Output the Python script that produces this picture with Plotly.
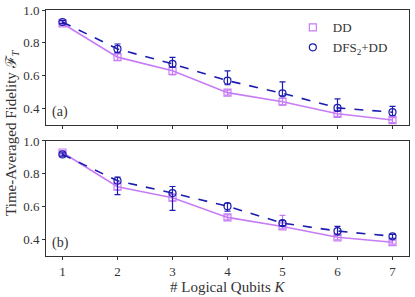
import plotly.graph_objects as go
from plotly.subplots import make_subplots

K = [1, 2, 3, 4, 5, 6, 7]

# panel (a)
dd_a = [0.918, 0.713, 0.630, 0.497, 0.442, 0.368, 0.330]
dd_a_plus = [0.01, 0.02, 0.025, 0.015, 0.02, 0.015, 0.015]
dd_a_minus = [0.01, 0.02, 0.025, 0.015, 0.02, 0.015, 0.015]
dfs_a = [0.927, 0.763, 0.672, 0.570, 0.493, 0.404, 0.378]
dfs_a_plus = [0.01, 0.03, 0.04, 0.06, 0.07, 0.055, 0.036]
dfs_a_minus = [0.01, 0.022, 0.02, 0.025, 0.015, 0.02, 0.02]

# panel (b)
dd_b = [0.930, 0.722, 0.655, 0.535, 0.480, 0.414, 0.384]
dd_b_plus = [0.01, 0.02, 0.02, 0.015, 0.067, 0.015, 0.012]
dd_b_minus = [0.01, 0.02, 0.02, 0.015, 0.014, 0.015, 0.012]
dfs_b = [0.918, 0.758, 0.683, 0.603, 0.500, 0.452, 0.420]
dfs_b_plus = [0.01, 0.022, 0.04, 0.018, 0.015, 0.028, 0.012]
dfs_b_minus = [0.01, 0.085, 0.105, 0.03, 0.015, 0.024, 0.012]

DD_COL = "#c77cf5"
DFS_COL = "#1c1cb0"
FONT = "'Liberation Serif', 'DejaVu Serif', serif"
TXT = "#333"

fig = make_subplots(rows=2, cols=1, shared_xaxes=False, vertical_spacing=0.065)

def add(row, y, yp, ym, name, col, sym, dash, show):
    fig.add_trace(go.Scatter(
        x=K, y=y, mode="lines", showlegend=False, hoverinfo="skip",
        line=dict(color=col, width=1.6, dash=dash),
    ), row=row, col=1)
    fig.add_trace(go.Scatter(
        x=K, y=y, name=name, mode="markers", showlegend=show,
        marker=dict(symbol=sym, size=7, color=col, line=dict(color=col, width=1.2)),
        error_y=dict(type="data", symmetric=False, array=yp, arrayminus=ym,
                     color=col, thickness=1.2, width=3),
    ), row=row, col=1)

add(1, dd_a, dd_a_plus, dd_a_minus, "DD", DD_COL, "square-open", "solid", True)
add(1, dfs_a, dfs_a_plus, dfs_a_minus, "DFS<sub>2</sub>+DD", DFS_COL, "circle-open", "dash", True)
add(2, dd_b, dd_b_plus, dd_b_minus, "DD", DD_COL, "square-open", "solid", False)
add(2, dfs_b, dfs_b_plus, dfs_b_minus, "DFS<sub>2</sub>+DD", DFS_COL, "circle-open", "dash", False)

axcommon = dict(showline=True, linecolor="#333", linewidth=1, mirror=True,
                ticks="outside", ticklen=3, tickcolor="#333", showgrid=False,
                zeroline=False, automargin=False,
                tickfont=dict(family=FONT, size=13, color=TXT))

fig.update_xaxes(range=[0.7, 7.3], tickvals=K, **axcommon)
fig.update_xaxes(showticklabels=False, row=1, col=1)
fig.update_yaxes(range=[0.3, 1.0], tickvals=[0.4, 0.6, 0.8, 1.0], tickformat=".1f", **axcommon)

fig.update_layout(
    width=415, height=297,
    margin=dict(l=46, r=6, t=10, b=41, autoexpand=False),
    plot_bgcolor="white", paper_bgcolor="white",
    font=dict(family=FONT, size=13, color=TXT),
    legend=dict(x=0.68, y=0.99, xanchor="left", yanchor="top",
                bgcolor="rgba(0,0,0,0)", font=dict(family=FONT, size=13, color=TXT),
                tracegroupgap=0, itemwidth=30),
)
fig.update_layout(yaxis=dict(domain=[0.5325, 1.0]), yaxis2=dict(domain=[0.0, 0.4675]))

fig.add_annotation(text="Time-Averaged Fidelity ℱ<sub><i>T</i></sub>", textangle=-90,
                   xref="paper", yref="paper", x=-0.094, y=0.5, xanchor="center",
                   yanchor="middle", showarrow=False, font=dict(family=FONT, size=15, color=TXT))
fig.add_annotation(text="# Logical Qubits <i>K</i>", xref="paper", yref="paper",
                   x=0.5, y=-0.125, xanchor="center", yanchor="middle", showarrow=False,
                   font=dict(family=FONT, size=15, color=TXT))
fig.add_annotation(text="(a)", xref="x domain", yref="y domain", x=0.012, y=0.03,
                   xanchor="left", yanchor="bottom", showarrow=False,
                   font=dict(family=FONT, size=14, color=TXT))
fig.add_annotation(text="(b)", xref="x2 domain", yref="y2 domain", x=0.012, y=0.03,
                   xanchor="left", yanchor="bottom", showarrow=False,
                   font=dict(family=FONT, size=14, color=TXT))

fig.write_html("out.html", config={"displayModeBar": False},
               post_script="document.body.style.margin='0';document.body.style.overflow='hidden';")
